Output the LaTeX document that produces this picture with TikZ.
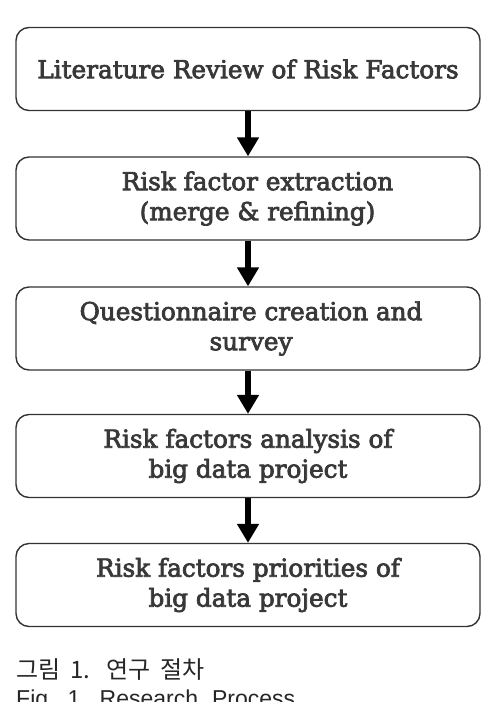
\documentclass[tikz,border=0pt]{standalone}
\usepackage{fontspec}
\setmainfont{DejaVu Serif}[FakeBold=3]
\newfontfamily\krfont{Noto Sans CJK KR}
\newfontfamily\capfont{Liberation Sans}
\usetikzlibrary{arrows.meta}
\definecolor{boxline}{HTML}{333333}
\definecolor{txt}{HTML}{383838}
\begin{document}
\begin{tikzpicture}[x=1pt,y=-1pt,
  stepbox/.style={draw=boxline, line width=1.4pt, rounded corners=13pt,
    minimum width=464pt, minimum height=83pt, align=center, text=txt,
    font=\fontsize{24.7}{30}\selectfont, inner sep=0pt},
  flow/.style={line width=6pt, draw=black,
    -{Triangle[width=21pt,length=19pt]}},
  captext/.style={anchor=base west, inner sep=0pt, text=black!85}]
\useasboundingbox (0,0) rectangle (487,702);
\clip (0,0) rectangle (487,702);
\node[stepbox] (b1) at (248,69) {Literature Review of Risk Factors};
\node[stepbox] (b2) at (248,198.5) {\hspace*{19pt}Risk factor extraction\\\hspace*{19pt}(merge \& refining)};
\node[stepbox] (b3) at (248,328.5) {\hspace*{6pt}Questionnaire creation and\\\hspace*{6pt}survey};
\node[stepbox] (b4) at (248,456) {Risk factors analysis of\\big data project};
\node[stepbox] (b5) at (248,585) {Risk factors priorities of\\big data project};
\draw[flow] (b1.south) -- (b2.north);
\draw[flow] (b2.south) -- (b3.north);
\draw[flow] (b3.south) -- (b4.north);
\draw[flow] (b4.south) -- (b5.north);
\node[captext, font=\krfont\fontsize{24}{28}\selectfont] (c1) at (16,678.5) {그림\hspace{10pt}1.\hspace{16pt}연구\hspace{10pt}절차};
\node[captext, font=\capfont\fontsize{23}{27}\selectfont] (c2) at (16,706.5) {Fig.\hspace{13pt}1.\hspace{13pt}Research\hspace{14pt}Process};
\end{tikzpicture}
\end{document}
